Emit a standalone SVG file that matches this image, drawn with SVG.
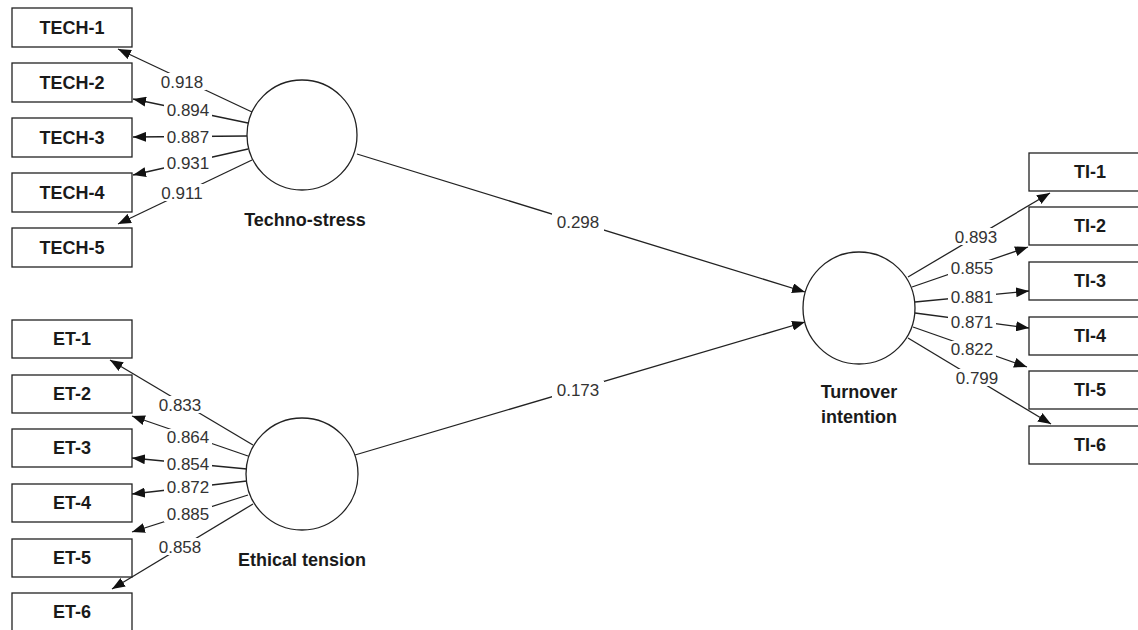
<svg xmlns="http://www.w3.org/2000/svg" width="1138" height="630" viewBox="0 0 1138 630">
<style>
.box{fill:#fff;stroke:#222;stroke-width:1.3}
.lv{fill:#fff;stroke:#222;stroke-width:1.3}
.bl{font-family:"Liberation Sans",Arial,sans-serif;font-weight:bold;font-size:18px;fill:#1a1a1a;text-anchor:middle}
.num{font-family:"Liberation Sans",Arial,sans-serif;font-size:17px;fill:#333;text-anchor:middle}
.bg{fill:#fff}
.ln{stroke:#222;stroke-width:1.3;fill:none;marker-end:url(#ah)}
</style>
<defs>
<marker id="ah" markerUnits="userSpaceOnUse" markerWidth="13" markerHeight="10" refX="13" refY="5" orient="auto">
<path d="M0,0 L13,5 L0,10 z" fill="#111"/>
</marker>
</defs>
<rect width="1138" height="630" fill="#fff"/>

<g id="connectors">
<line class="ln" x1="252" y1="112" x2="118" y2="49"/>
<line class="ln" x1="248" y1="123" x2="133" y2="99"/>
<line class="ln" x1="247" y1="136" x2="133" y2="137"/>
<line class="ln" x1="248" y1="149" x2="133" y2="175"/>
<line class="ln" x1="252" y1="160" x2="118" y2="224"/>
<line class="ln" x1="253" y1="445" x2="110" y2="360"/>
<line class="ln" x1="248" y1="456" x2="132" y2="416"/>
<line class="ln" x1="247" y1="469" x2="132" y2="458"/>
<line class="ln" x1="247" y1="481" x2="132" y2="494"/>
<line class="ln" x1="248" y1="495" x2="132" y2="532"/>
<line class="ln" x1="253" y1="504" x2="112" y2="589"/>
<line class="ln" x1="908" y1="277" x2="1050" y2="193"/>
<line class="ln" x1="912" y1="287" x2="1028" y2="247"/>
<line class="ln" x1="915" y1="302" x2="1029" y2="291"/>
<line class="ln" x1="915" y1="313" x2="1029" y2="328"/>
<line class="ln" x1="913" y1="327" x2="1027" y2="367"/>
<line class="ln" x1="908" y1="338" x2="1051" y2="424"/>
<line class="ln" x1="357" y1="154" x2="805" y2="292"/>
<line class="ln" x1="355" y1="455" x2="805" y2="322"/>
<rect class="bg" x="158" y="73" width="48" height="17"/><text class="num" x="182" y="88">0.918</text>
<rect class="bg" x="164" y="102" width="48" height="16"/><text class="num" x="188" y="116">0.894</text>
<rect class="bg" x="164" y="129" width="48" height="16"/><text class="num" x="188" y="143">0.887</text>
<rect class="bg" x="164" y="155" width="48" height="16"/><text class="num" x="188" y="169">0.931</text>
<rect class="bg" x="158" y="184" width="48" height="17"/><text class="num" x="182" y="199">0.911</text>
<rect class="bg" x="156" y="396" width="48" height="17"/><text class="num" x="180" y="411">0.833</text>
<rect class="bg" x="164" y="429" width="48" height="16"/><text class="num" x="188" y="443">0.864</text>
<rect class="bg" x="164" y="456" width="48" height="16"/><text class="num" x="188" y="470">0.854</text>
<rect class="bg" x="164" y="479" width="48" height="16"/><text class="num" x="188" y="493">0.872</text>
<rect class="bg" x="164" y="506" width="48" height="16"/><text class="num" x="188" y="520">0.885</text>
<rect class="bg" x="156" y="538" width="48" height="17"/><text class="num" x="180" y="553">0.858</text>
<rect class="bg" x="952" y="228" width="48" height="17"/><text class="num" x="976" y="243">0.893</text>
<rect class="bg" x="948" y="260" width="48" height="16"/><text class="num" x="972" y="274">0.855</text>
<rect class="bg" x="948" y="289" width="48" height="16"/><text class="num" x="972" y="303">0.881</text>
<rect class="bg" x="948" y="314" width="48" height="16"/><text class="num" x="972" y="328">0.871</text>
<rect class="bg" x="948" y="341" width="48" height="16"/><text class="num" x="972" y="355">0.822</text>
<rect class="bg" x="953" y="369" width="48" height="17"/><text class="num" x="977" y="384">0.799</text>
<rect class="bg" x="552" y="213" width="52" height="18"/><text class="num" x="578" y="228">0.298</text>
<rect class="bg" x="552" y="381" width="52" height="18"/><text class="num" x="578" y="396">0.173</text>
</g>

<g id="TECH-1"><rect class="box" x="12" y="8" width="120" height="39"/><text class="bl" x="72" y="34">TECH-1</text></g>
<g id="TECH-2"><rect class="box" x="12" y="63" width="120" height="39"/><text class="bl" x="72" y="89">TECH-2</text></g>
<g id="TECH-3"><rect class="box" x="12" y="118" width="120" height="39"/><text class="bl" x="72" y="144">TECH-3</text></g>
<g id="TECH-4"><rect class="box" x="12" y="173" width="120" height="39"/><text class="bl" x="72" y="199">TECH-4</text></g>
<g id="TECH-5"><rect class="box" x="12" y="228" width="120" height="39"/><text class="bl" x="72" y="254">TECH-5</text></g>

<g id="ET-1"><rect class="box" x="12" y="320" width="120" height="38"/><text class="bl" x="72" y="345">ET-1</text></g>
<g id="ET-2"><rect class="box" x="12" y="375" width="120" height="38"/><text class="bl" x="72" y="400">ET-2</text></g>
<g id="ET-3"><rect class="box" x="12" y="429" width="120" height="38"/><text class="bl" x="72" y="454">ET-3</text></g>
<g id="ET-4"><rect class="box" x="12" y="484" width="120" height="38"/><text class="bl" x="72" y="509">ET-4</text></g>
<g id="ET-5"><rect class="box" x="12" y="539" width="120" height="38"/><text class="bl" x="72" y="564">ET-5</text></g>
<g id="ET-6"><rect class="box" x="12" y="593" width="120" height="38"/><text class="bl" x="72" y="618">ET-6</text></g>

<g id="TI-1"><rect class="box" x="1029" y="153" width="122" height="38"/><text class="bl" x="1090" y="178">TI-1</text></g>
<g id="TI-2"><rect class="box" x="1029" y="207" width="122" height="38"/><text class="bl" x="1090" y="232">TI-2</text></g>
<g id="TI-3"><rect class="box" x="1029" y="262" width="122" height="38"/><text class="bl" x="1090" y="287">TI-3</text></g>
<g id="TI-4"><rect class="box" x="1029" y="317" width="122" height="38"/><text class="bl" x="1090" y="342">TI-4</text></g>
<g id="TI-5"><rect class="box" x="1029" y="371" width="122" height="38"/><text class="bl" x="1090" y="396">TI-5</text></g>
<g id="TI-6"><rect class="box" x="1029" y="426" width="122" height="38"/><text class="bl" x="1090" y="451">TI-6</text></g>

<g id="Techno-stress"><circle class="lv" cx="302" cy="135" r="55"/><text class="bl" x="305" y="226">Techno-stress</text></g>
<g id="Ethical-tension"><circle class="lv" cx="302" cy="474" r="56"/><text class="bl" x="302" y="566">Ethical tension</text></g>
<g id="Turnover-intention"><circle class="lv" cx="859" cy="308" r="56"/><text class="bl" x="859" y="398">Turnover</text><text class="bl" x="859" y="423">intention</text></g>
</svg>
